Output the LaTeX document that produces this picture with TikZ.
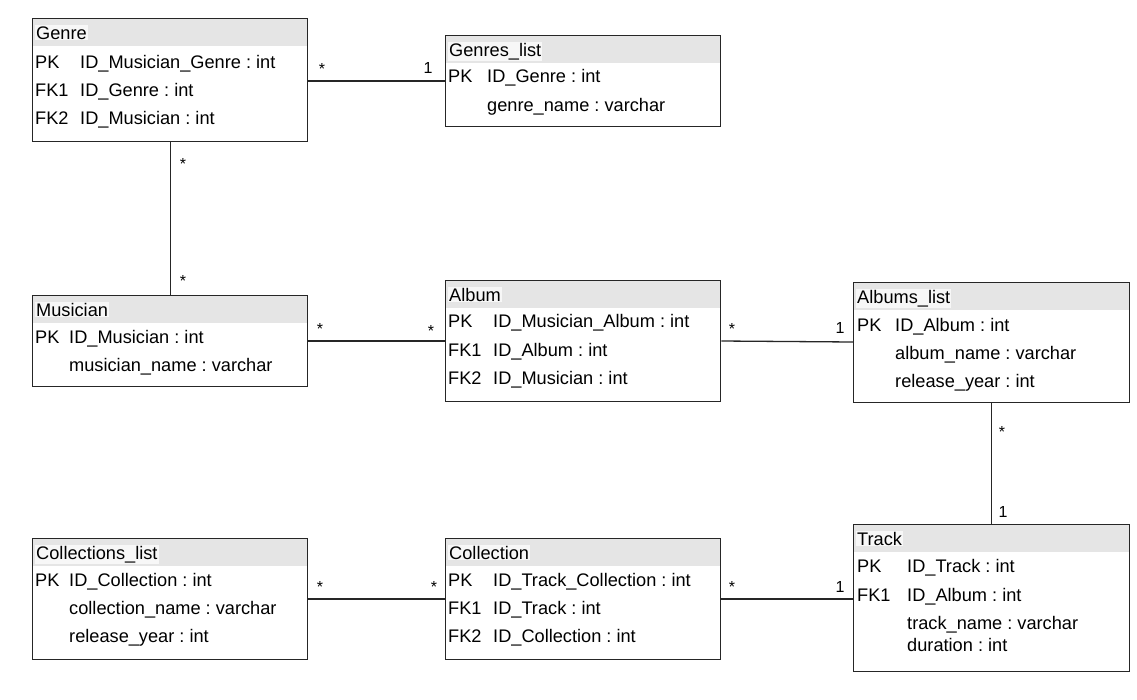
\documentclass[tikz,border=0pt]{standalone}
\usepackage{fontspec}
\setmainfont{Liberation Sans}
\frenchspacing
\newcommand\mktable[6]{%
  \fill[hdr] (#2,#3) rectangle ++(#4,28);
  \node[tbox, minimum width=#4pt, minimum height=#5pt] (#1) at (#2,#3) {};
  \node[htext] at ([xshift=3pt,yshift=-21pt]#1.north west) {#6};
}
\begin{document}
\begin{tikzpicture}[x=1pt,y=-1pt,
  tbox/.style={draw=black!85, line width=1.3pt, inner sep=0pt, anchor=north west},
  hdr/.style={fill=black!10},
  htext/.style={anchor=base west, fill=black!3, inner sep=1pt, font=\fontsize{18.2}{20}\selectfont},
  row/.style={anchor=base west, inner sep=0pt, font=\fontsize{18.2}{20}\selectfont},
  rel/.style={draw=black!85, line width=1.3pt},
  card/.style={anchor=base, inner sep=0pt, font=\fontsize{16}{18}\selectfont}]
\useasboundingbox (0,0) rectangle (1137,699);
\fill[white] (0,0) rectangle (1137,699);

% Genre
\mktable{genre}{32}{18}{275}{123}{Genre}
\node[row] at (35,68.5) {PK};  \node[row] at (80,68.5) {ID\_Musician\_Genre : int};
\node[row] at (35,96.5) {FK1}; \node[row] at (80,96.5) {ID\_Genre : int};
\node[row] at (35,124.5) {FK2}; \node[row] at (80,124.5) {ID\_Musician : int};

% Genres_list
\mktable{glist}{445}{35}{275}{91}{Genres\_list}
\node[row] at (448,82.5) {PK}; \node[row] at (487,82.5) {ID\_Genre : int};
\node[row] at (487,111.5) {genre\_name : varchar};

% Musician
\mktable{musician}{32}{295}{275}{91}{Musician}
\node[row] at (35,343.5) {PK}; \node[row] at (69,343.5) {ID\_Musician : int};
\node[row] at (69,371.5) {musician\_name : varchar};

% Album
\mktable{album}{445}{280}{275}{121}{Album}
\node[row] at (448,327.5) {PK};  \node[row] at (493,327.5) {ID\_Musician\_Album : int};
\node[row] at (448,356.5) {FK1}; \node[row] at (493,356.5) {ID\_Album : int};
\node[row] at (448,384.5) {FK2}; \node[row] at (493,384.5) {ID\_Musician : int};

% Albums_list
\mktable{alist}{853}{282}{276}{120}{Albums\_list}
\node[row] at (857,331.5) {PK}; \node[row] at (895,331.5) {ID\_Album : int};
\node[row] at (895,359.5) {album\_name : varchar};
\node[row] at (895,387.5) {release\_year : int};

% Collections_list
\mktable{clist}{32}{538}{275}{121}{Collections\_list}
\node[row] at (35,586.5) {PK}; \node[row] at (69,586.5) {ID\_Collection : int};
\node[row] at (69,614.5) {collection\_name : varchar};
\node[row] at (69,642.5) {release\_year : int};

% Collection
\mktable{collection}{445}{538}{275}{121}{Collection}
\node[row] at (448,586.5) {PK};  \node[row] at (493,586.5) {ID\_Track\_Collection : int};
\node[row] at (448,614.5) {FK1}; \node[row] at (493,614.5) {ID\_Track : int};
\node[row] at (448,642.5) {FK2}; \node[row] at (493,642.5) {ID\_Collection : int};

% Track
\mktable{track}{853}{524}{276}{147}{Track}
\node[row] at (857,572.5) {PK};  \node[row] at (907,572.5) {ID\_Track : int};
\node[row] at (857,601.5) {FK1}; \node[row] at (907,601.5) {ID\_Album : int};
\node[row] at (907,629.5) {track\_name : varchar};
\node[row] at (907,651.5) {duration : int};

% Relations
\draw[rel] ([yshift=-63pt]genre.north east) -- ([yshift=-46pt]glist.north west);
\node[card] at (322,74) {*}; \node[card] at (428,73) {1};

\draw[rel] (genre.south) -- (musician.north);
\node[card] at (183,169) {*}; \node[card] at (183,286) {*};

\draw[rel] ([yshift=-46pt]musician.north east) -- ([yshift=-61pt]album.north west);
\node[card] at (320,334) {*}; \node[card] at (431,336) {*};

\draw[rel] ([yshift=-61pt]album.north east) -- ([yshift=-60pt]alist.north west);
\node[card] at (732,334) {*}; \node[card] at (840,333) {1};

\draw[rel] (alist.south) -- (track.north);
\node[card] at (1002,437) {*}; \node[card] at (1003,517) {1};

\draw[rel] ([yshift=-61pt]clist.north east) -- ([yshift=-61pt]collection.north west);
\node[card] at (320,592) {*}; \node[card] at (434,592) {*};

\draw[rel] ([yshift=-61pt]collection.north east) -- ([yshift=-75pt]track.north west);
\node[card] at (732,592) {*}; \node[card] at (840,592) {1};
\end{tikzpicture}
\end{document}
